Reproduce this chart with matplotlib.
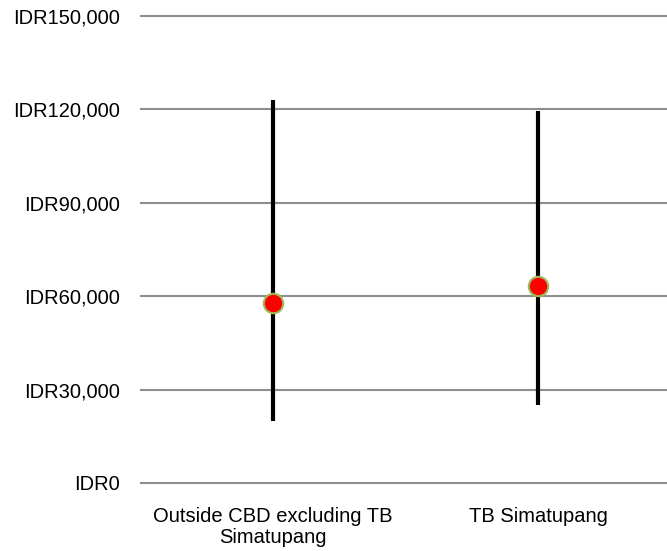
import numpy as np
import matplotlib.pyplot as plt
from matplotlib.ticker import FuncFormatter

# data
categories = ["Outside CBD excluding TB\nSimatupang", "TB Simatupang"]
high_vals = [123000, 119600]
low_vals = [20000, 25000]
avg_vals = [57700, 63400]
y_ticks = [0, 30000, 60000, 90000, 120000, 150000]

plt.rcParams['font.family'] = ['Liberation Sans', 'DejaVu Sans']

fig = plt.figure(figsize=(6.67, 5.51), dpi=100)
ax = fig.add_axes([0.2106, 0.1178, 0.7947, 0.8588])

x = np.arange(len(categories))
ax.vlines(x, low_vals, high_vals, color="black", linewidth=3, zorder=3)
ax.plot(x, avg_vals, linestyle="none", marker="o", markersize=14,
        markerfacecolor="#ff0000", markeredgecolor="#9bbb59",
        markeredgewidth=1.5, zorder=4)

ax.set_xlim(-0.5, 1.5)
ax.set_ylim(-1000, 151000)
ax.set_yticks(y_ticks)
ax.yaxis.set_major_formatter(FuncFormatter(lambda v, p: "IDR{:,.0f}".format(v)))
ax.set_xticks(x)
ax.set_xticklabels(categories, linespacing=1.15)

ax.grid(axis="y", color="#8e8e8e", linewidth=1.5, zorder=0)
ax.set_axisbelow(True)
for s in ax.spines.values():
    s.set_visible(False)
ax.tick_params(axis="both", length=0, labelsize=14.5, colors="black")
ax.tick_params(axis="y", pad=15)
ax.tick_params(axis="x", pad=15)

fig.savefig("out.png", dpi=100)
